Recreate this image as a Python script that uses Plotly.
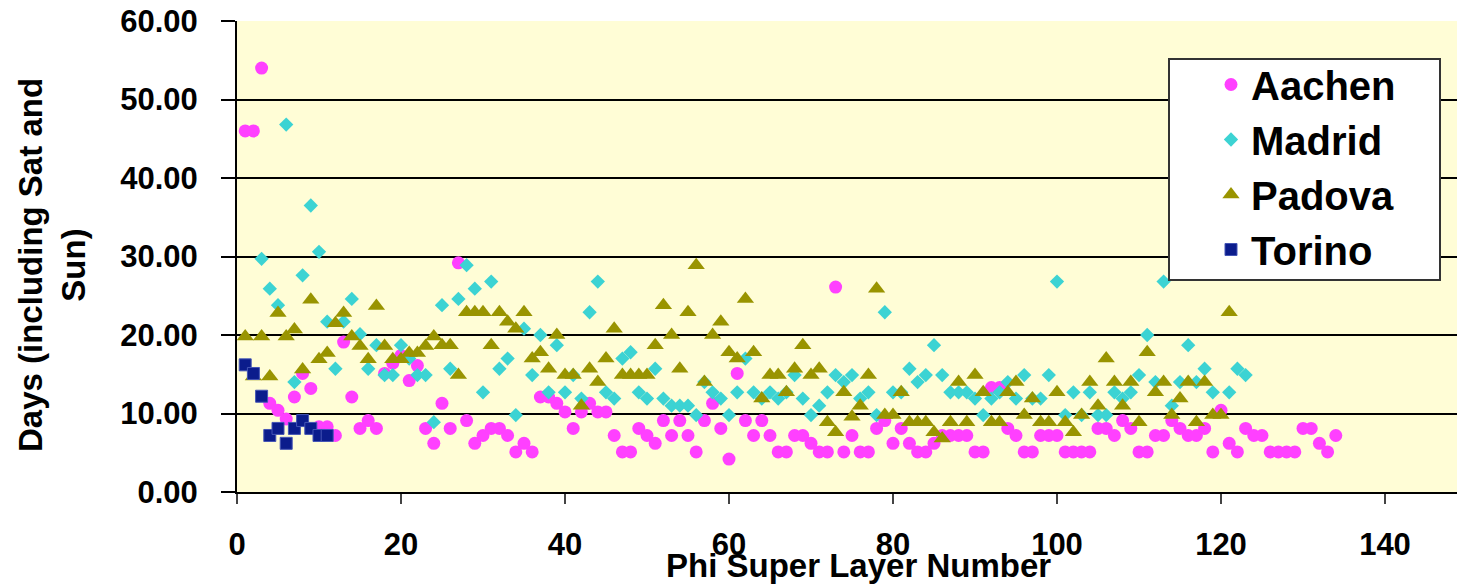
import plotly.graph_objects as go

# ---- data ----
aachen_x = list(range(1, 135))
aachen_y = [46, 46, 54, 11.3, 10.4, 9.3, 12.1, 15.1, 13.2, 8.3,
            8.3, 7.2, 19.1, 12.1, 8.1, 9.1, 8.1, 15.1, 16.4, 17.4,
            14.2, 16.1, 8.1, 6.2, 11.3, 8.1, 29.2, 9.1, 6.2, 7.2,
            8.1, 8.1, 7.2, 5.1, 6.2, 5.1, 12.1, 12.1, 11.3, 10.2,
            8.1, 10.2, 11.3, 10.2, 10.2, 7.2, 5.1, 5.1, 8.1, 7.2,
            6.2, 9.1, 7.2, 9.1, 7.2, 5.1, 9.1, 11.3, 8.1, 4.2,
            15.1, 9.1, 7.2, 9.1, 7.2, 5.1, 5.1, 7.2, 7.2, 6.2,
            5.1, 5.1, 26.1, 5.1, 7.2, 5.1, 5.1, 8.1, 9.1, 6.2,
            8.1, 6.2, 5.1, 5.1, 6.2, 7.2, 7.2, 7.2, 7.2, 5.1,
            5.1, 13.3, 13.3, 8.1, 7.2, 5.1, 5.1, 7.2, 7.2, 7.2,
            5.1, 5.1, 5.1, 5.1, 8.1, 8.1, 7.2, 9.1, 8.1, 5.1,
            5.1, 7.2, 7.2, 9.1, 8.1, 7.2, 7.2, 8.1, 5.1, 10.4,
            6.2, 5.1, 8.1, 7.2, 7.2, 5.1, 5.1, 5.1, 5.1, 8.1,
            8.1, 6.2, 5.1, 7.2]

madrid_x = list(range(3, 124))
madrid_y = [29.7, 25.9, 23.8, 46.8, 14.0, 27.6, 36.5, 30.6,
            21.7, 15.7, 21.7, 24.6, 20.1, 15.7, 18.7, 14.9, 14.9, 18.7,
            17.0, 14.9, 14.9, 8.9, 23.8, 15.7, 24.6, 28.9, 25.9, 12.7,
            26.8, 15.7, 17.0, 9.8, 20.8, 14.9, 20.0, 12.7, 18.7, 12.7,
            14.9, 11.9, 22.9, 26.8, 12.7, 11.9, 17.0, 17.8, 12.7, 11.9,
            15.7, 11.9, 11.0, 11.0, 11.0, 9.8, 14.0, 12.7, 11.9, 9.8,
            12.7, 17.0, 12.7, 11.9, 12.7, 11.9, 12.7, 14.9, 11.9, 9.8,
            11.0, 12.7, 14.9, 14.0, 14.9, 11.9, 12.7, 9.8, 22.9, 12.7,
            12.7, 15.7, 14.0, 14.9, 18.7, 14.9, 12.7, 12.7, 12.7, 11.9,
            9.8, 11.9, 12.7, 14.0, 11.9, 14.9, 11.9, 11.9, 14.9, 26.8,
            9.8, 12.7, 9.8, 12.7, 9.8, 9.8, 12.7, 11.9, 12.7, 14.9,
            20.0, 14.0, 26.8, 11.0, 14.0, 18.7, 14.0, 15.7, 12.7, None,
            12.7, 15.7, 14.9]

padova_x = list(range(1, 122))
padova_y = [19.8, 14.7, 19.8, 14.7, 22.8, 19.8, 20.7, 15.6, 24.5, 16.9,
            17.7, 21.5, 22.8, 19.8, 18.6, 16.9, 23.7, 18.6, 16.9, 16.9,
            17.7, 17.7, 18.6, 19.8, 18.7, 18.7, 14.9, 22.9, 22.9, 22.9,
            18.7, 22.9, 21.7, 20.8, 22.9, 17.0, 17.8, 15.7, 20.0, 14.9,
            14.9, 11.0, 15.7, 14.0, 17.0, 20.8, 14.9, 14.9, 14.9, 14.9,
            18.7, 23.8, 20.0, 15.7, 22.9, 28.9, 14.0, 20.0, 21.7, 17.8,
            17.0, 24.6, 17.8, 11.9, 14.9, 14.9, 12.7, 15.7, 18.7, 14.9,
            15.7, 8.9, 7.6, 12.7, 9.6, 11.0, 14.9, 25.9, 9.8, 9.8,
            12.7, 8.9, 8.9, 8.9, 7.6, 6.8, 8.9, 14.0, 8.9, 14.9,
            12.7, 8.9, 8.9, 12.7, 14.0, 9.8, 11.9, 8.9, 8.9, 12.7,
            8.9, 7.6, 9.8, 14.0, 11.0, 17.0, 14.0, 11.0, 14.0, 8.9,
            17.8, 12.7, 14.0, 9.8, 11.9, 14.0, 8.9, 14.0, 9.8, 9.8,
            22.9]

torino_x = list(range(1, 12))
torino_y = [16.2, 15.1, 12.2, 7.2, 8.1, 6.2, 8.1, 9.1, 8.1, 7.2, 7.2]

y_ticks = [0, 10, 20, 30, 40, 50, 60]
x_ticks = [0, 20, 40, 60, 80, 100, 120, 140]

FONT = "Liberation Sans, Arial, sans-serif"

fig = go.Figure()
fig.add_trace(go.Scatter(x=aachen_x, y=aachen_y, mode="markers", name="Aachen",
                         marker=dict(symbol="circle", size=13, color="#FF40FF",
                                     line=dict(width=0))))
fig.add_trace(go.Scatter(x=madrid_x, y=madrid_y, mode="markers", name="Madrid",
                         marker=dict(symbol="diamond", size=11, color="#3CD3D3",
                                     line=dict(width=0))))
fig.add_trace(go.Scatter(x=padova_x, y=padova_y, mode="markers", name="Padova",
                         marker=dict(symbol="triangle-up", size=15, color="#999400",
                                     line=dict(width=0))))
fig.add_trace(go.Scatter(x=torino_x, y=torino_y, mode="markers", name="Torino",
                         marker=dict(symbol="square", size=12, color="#0B1C8C",
                                     line=dict(width=1, color="#4455B5"))))

W, H = 1457, 585
ml, mr, mt, mb = 237, 0, 21, 93
pw, ph = W - ml - mr, H - mt - mb


def px_x(p):
    return (p - ml) / pw


def px_y(p):
    return (H - mb - p) / ph


fig.update_layout(
    width=W, height=H,
    margin=dict(l=ml, r=mr, t=mt, b=mb, pad=0),
    paper_bgcolor="white",
    plot_bgcolor="#FFFDD6",
    font=dict(family=FONT, color="black"),
    showlegend=True,
    legend=dict(
        x=px_x(1211), y=px_y(52),
        xanchor="left", yanchor="top",
        bgcolor="rgba(0,0,0,0)", borderwidth=0,
        font=dict(family=FONT, size=40, weight="bold", color="black"),
        itemwidth=30,
    ),
    shapes=[
        dict(type="rect", xref="paper", yref="paper",
             x0=px_x(1169), x1=px_x(1440), y0=px_y(280), y1=px_y(59),
             fillcolor="white", line=dict(color="#333333", width=2),
             layer="above"),
    ],
    xaxis=dict(
        range=[0, pw / 8.2], tickmode="array", tickvals=x_ticks,
        showgrid=False, zeroline=False,
        showline=True, linecolor="black", linewidth=2,
        ticks="outside", ticklen=10, tickwidth=1.5, tickcolor="#444444",
        tickfont=dict(family=FONT, size=31, weight="bold", color="black"),
        ticklabelstandoff=14,
    ),
    yaxis=dict(
        range=[0, 60], tickmode="array", tickvals=y_ticks, tickformat=".2f",
        showgrid=True, gridcolor="black", gridwidth=1.5, zeroline=False,
        showline=True, linecolor="black", linewidth=2,
        ticks="outside", ticklen=14, tickwidth=1.5, tickcolor="black",
        tickfont=dict(family=FONT, size=31, weight="bold", color="black"),
        ticklabelstandoff=17,
    ),
    annotations=[
        dict(text="Days (including Sat and<br>Sun)", textangle=-90,
             xref="paper", yref="paper",
             x=px_x(52), y=px_y(265),
             xanchor="center", yanchor="middle", showarrow=False,
             font=dict(family=FONT, size=33, weight="bold", color="black")),
        dict(text="Phi Super Layer Number",
             xref="paper", yref="paper",
             x=px_x(858), y=px_y(565),
             xanchor="center", yanchor="middle", showarrow=False,
             font=dict(family=FONT, size=33, weight="bold", color="black")),
    ],
)

fig.write_html("out.html")
